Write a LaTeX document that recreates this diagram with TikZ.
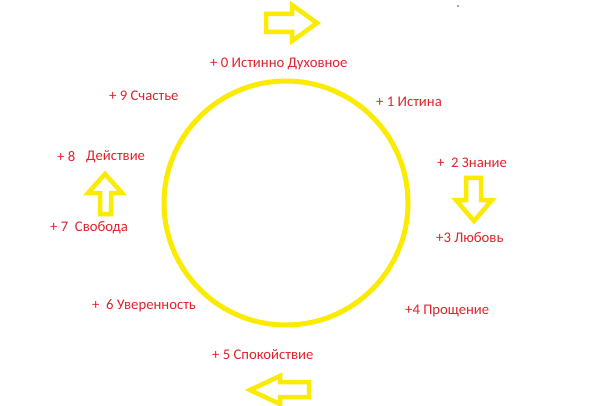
\documentclass[tikz,border=0pt]{standalone}
\usepackage{fontspec}
\setmainfont{Carlito}
\definecolor{ylw}{RGB}{250,235,0}
\definecolor{rd}{RGB}{225,35,45}
\begin{document}
\begin{tikzpicture}[x=1pt,y=-1pt,
  lbl/.style={text=rd,font=\fontsize{14.7}{16}\selectfont,anchor=west,inner sep=0pt},
  yarrow/.style={draw=ylw,line width=4.5pt,line join=miter}]
\useasboundingbox (0,0) rectangle (591,406);
\fill[white] (0,0) rectangle (591,406);
\draw[ylw,line width=5pt] (286,203) circle (122);
% labels
\node[lbl] (l0) at (210,64) {+ 0 Истинно Духовное};
\node[lbl] (l1) at (376,102) {+ 1 Истина};
\node[lbl] (l2) at (437,163) {+\ \ 2 Знание};
\node[lbl] (l3) at (436,238) {+3 Любовь};
\node[lbl] (l4) at (405,311) {+4 Прощение};
\node[lbl] (l5) at (212,355) {+ 5 Спокойствие};
\node[lbl] (l6) at (92,306) {+\ \ 6 Уверенность};
\node[lbl] (l7) at (50,228) {+ 7\ \ Свобода};
\node[lbl] (l8a) at (57,157) {+ 8};
\node[lbl] (l8b) at (86,157) {Действие};
\node[lbl] (l9) at (109,96) {+ 9 Счастье};
% arrows
\draw[yarrow] (266,14) -- (292,14) -- (292,5) -- (317,23) -- (292,41) -- (292,32) -- (266,32) -- cycle;
\draw[yarrow] (100,214) -- (100,193) -- (88,193) -- (105,174) -- (122,193) -- (111,193) -- (111,214) -- cycle;
\draw[yarrow] (466,178) -- (481,178) -- (481,200) -- (492,200) -- (474,221) -- (456,200) -- (466,200) -- cycle;
\draw[yarrow] (309,382) -- (280,382) -- (280,376) -- (250,390) -- (280,404) -- (280,397) -- (309,397) -- cycle;
\fill[black!70] (458,6) circle (0.8);
\end{tikzpicture}
\end{document}
